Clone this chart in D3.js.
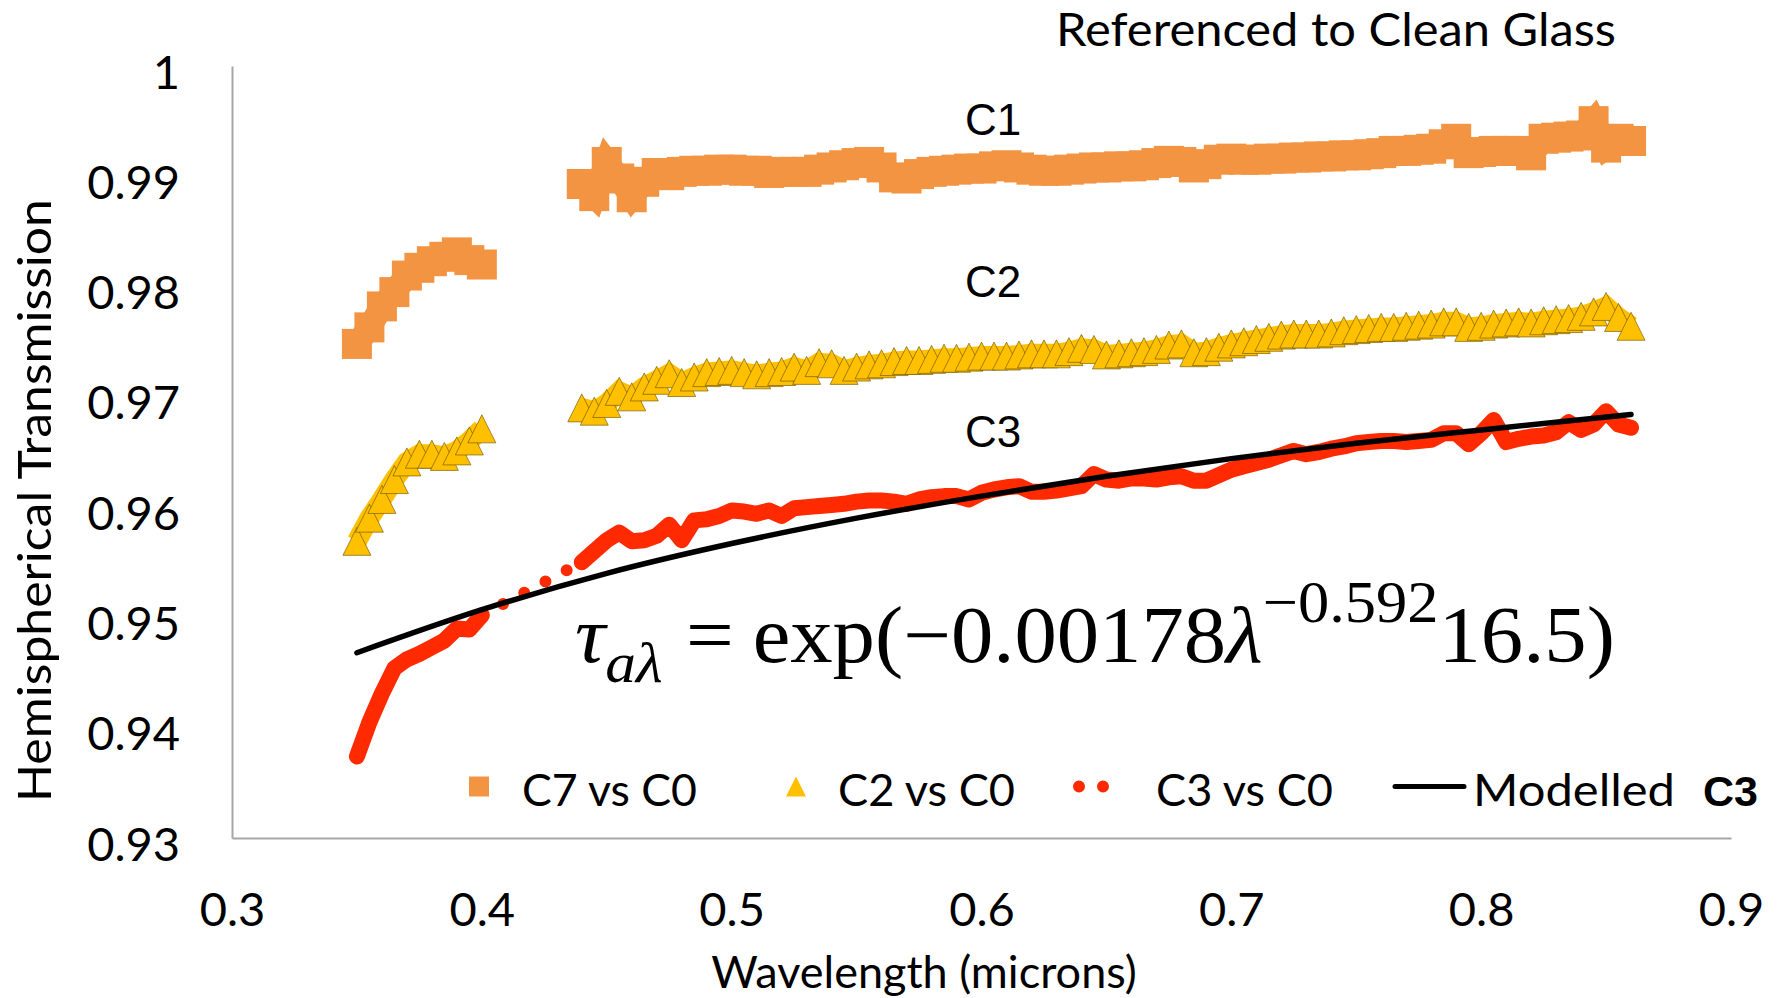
<!DOCTYPE html>
<html>
<head>
<meta charset="utf-8">
<script src="https://cdn.jsdelivr.net/npm/d3@7"></script>
<style>
  body { margin: 0; background: #fff; }
  svg text { font-family: Lato, "Open Sans", sans-serif; fill: #000; }
</style>
</head>
<body>
<div id="chart-div"></div>
<script>
// wavelength grid (microns) of the two measured ranges, shared by all three samples
const wlUv = [0.350, 0.355, 0.360, 0.365, 0.370, 0.375, 0.380, 0.385, 0.390, 0.395, 0.400];
const wlVis = [
  0.440, 0.445, 0.450, 0.455, 0.460, 0.465, 0.470, 0.475, 0.480, 0.485,
  0.490, 0.495, 0.500, 0.505, 0.510, 0.515, 0.520, 0.525, 0.530, 0.535,
  0.540, 0.545, 0.550, 0.555, 0.560, 0.565, 0.570, 0.575, 0.580, 0.585,
  0.590, 0.595, 0.600, 0.605, 0.610, 0.615, 0.620, 0.625, 0.630, 0.635,
  0.640, 0.645, 0.650, 0.655, 0.660, 0.665, 0.670, 0.675, 0.680, 0.685,
  0.690, 0.695, 0.700, 0.705, 0.710, 0.715, 0.720, 0.725, 0.730, 0.735,
  0.740, 0.745, 0.750, 0.755, 0.760, 0.765, 0.770, 0.775, 0.780, 0.785,
  0.790, 0.795, 0.800, 0.805, 0.810, 0.815, 0.820, 0.825, 0.830, 0.835,
  0.840, 0.845, 0.850, 0.855, 0.860];

// C7 vs C0 (orange squares)
const c7Uv = [0.9748, 0.9763, 0.9782, 0.9795, 0.9810, 0.9817, 0.9823, 0.9827, 0.9831, 0.9824, 0.9820];
const c7Vis = [
  0.9893, 0.9882, 0.9913, 0.9898, 0.9881, 0.9895, 0.9903, 0.9901, 0.9904, 0.9905,
  0.9905, 0.9906, 0.9906, 0.9905, 0.9905, 0.9903, 0.9904, 0.9904, 0.9904, 0.9906,
  0.9908, 0.9910, 0.9912, 0.9913, 0.9908, 0.9899, 0.9898, 0.9902, 0.9904, 0.9905,
  0.9906, 0.9907, 0.9907, 0.9909, 0.9910, 0.9908, 0.9906, 0.9905, 0.9905, 0.9906,
  0.9907, 0.9908, 0.9908, 0.9909, 0.9909, 0.9910, 0.9912, 0.9914, 0.9913, 0.9908,
  0.9911, 0.9915, 0.9916, 0.9915, 0.9915, 0.9916, 0.9916, 0.9917, 0.9917, 0.9918,
  0.9918, 0.9919, 0.9919, 0.9920, 0.9921, 0.9923, 0.9923, 0.9924, 0.9925, 0.9929,
  0.9934, 0.9921, 0.9922, 0.9923, 0.9923, 0.9923, 0.9919, 0.9934, 0.9935, 0.9936,
  0.9937, 0.9950, 0.9926, 0.9934, 0.9932];

// C2 vs C0 (yellow triangles)
const c2Uv = [0.9569, 0.9590, 0.9607, 0.9625, 0.9641, 0.9648, 0.9648, 0.9646, 0.9651, 0.9660, 0.9671];
const c2Vis = [
  0.9690, 0.9687, 0.9694, 0.9705, 0.9700, 0.9709, 0.9715, 0.9721, 0.9713, 0.9718,
  0.9722, 0.9723, 0.9724, 0.9722, 0.9720, 0.9722, 0.9723, 0.9727, 0.9724, 0.9731,
  0.9730, 0.9724, 0.9727, 0.9729, 0.9730, 0.9732, 0.9733, 0.9733, 0.9734, 0.9735,
  0.9735, 0.9736, 0.9737, 0.9737, 0.9737, 0.9738, 0.9739, 0.9739, 0.9739, 0.9741,
  0.9744, 0.9743, 0.9738, 0.9739, 0.9740, 0.9741, 0.9743, 0.9747, 0.9748, 0.9740,
  0.9741, 0.9745, 0.9748, 0.9750, 0.9752, 0.9754, 0.9756, 0.9757, 0.9757, 0.9757,
  0.9758, 0.9760, 0.9761, 0.9762, 0.9763, 0.9763, 0.9764, 0.9765, 0.9766, 0.9768,
  0.9768, 0.9763, 0.9764, 0.9766, 0.9767, 0.9768, 0.9767, 0.9769, 0.9770, 0.9771,
  0.9773, 0.9777, 0.9782, 0.9772, 0.9764];

// C3 vs C0 (red round-dot line)
const c3Uv = [0.9374, 0.9405, 0.9431, 0.9454, 0.9462, 0.9467, 0.9473, 0.9479, 0.9490, 0.9489, 0.9502];
const c3Vis = [
  0.9550, 0.9560, 0.9570, 0.9577, 0.9569, 0.9570, 0.9574, 0.9584, 0.9570, 0.9588,
  0.9589, 0.9592, 0.9597, 0.9596, 0.9594, 0.9597, 0.9592, 0.9599, 0.9600, 0.9601,
  0.9602, 0.9603, 0.9605, 0.9606, 0.9606, 0.9605, 0.9603, 0.9607, 0.9609, 0.9610,
  0.9610, 0.9607, 0.9613, 0.9616, 0.9618, 0.9619, 0.9614, 0.9614, 0.9615, 0.9617,
  0.9619, 0.9630, 0.9625, 0.9624, 0.9626, 0.9626, 0.9625, 0.9627, 0.9628, 0.9624,
  0.9624, 0.9629, 0.9634, 0.9637, 0.9640, 0.9643, 0.9647, 0.9651, 0.9648, 0.9650,
  0.9653, 0.9655, 0.9658, 0.9659, 0.9660, 0.9660, 0.9659, 0.9660, 0.9661, 0.9667,
  0.9667, 0.9657, 0.9667, 0.9679, 0.9659, 0.9662, 0.9664, 0.9665, 0.9668, 0.9677,
  0.9670, 0.9675, 0.9687, 0.9675, 0.9672];

// Modelled C3 (black line)
const modelWl = [0.35, 0.40, 0.45, 0.50, 0.55, 0.60, 0.65, 0.70, 0.75, 0.80, 0.86];
const modelTau = [0.9468, 0.9507, 0.9540, 0.9567, 0.9590, 0.9610, 0.9628, 0.9644, 0.9658, 0.9670, 0.9684];

const xTicks = [0.3, 0.4, 0.5, 0.6, 0.7, 0.8, 0.9];
const xTickLabels = ['0.3', '0.4', '0.5', '0.6', '0.7', '0.8', '0.9'];
const yTicks = [0.93, 0.94, 0.95, 0.96, 0.97, 0.98, 0.99, 1];
const yTickLabels = ['0.93', '0.94', '0.95', '0.96', '0.97', '0.98', '0.99', '1'];

const legendLabels = ['C7 vs C0', 'C2 vs C0', 'C3 vs C0', 'Modelled'];

const scatterChart = function() {

    const width = 1783
    const height = 998

    const svg = d3.select('#chart-div').append('svg')
                    .attr('width', width)
                    .attr('height', height)
                    .attr('viewBox', [0, 0, width, height]);

    const orange = '#F39442';
    const yellow = '#FFC000';
    const red = '#FF2A00';
    const axisGrey = '#A6A6A6';

    const xScale = d3.scaleLinear().domain([0.3, 0.9]).range([232, 1731]);
    const yScale = d3.scaleLinear().domain([0.93, 1]).range([838, 66]);

    const pairs = (wl, vals) => wl.map((w, i) => ({ wl: w, t: vals[i] }));
    const c7Runs = [pairs(wlUv, c7Uv), pairs(wlVis, c7Vis)];
    const c2Runs = [pairs(wlUv, c2Uv), pairs(wlVis, c2Vis)];
    const c3Runs = [pairs(wlUv, c3Uv), pairs(wlVis, c3Vis)];
    const model = pairs(modelWl, modelTau);

    const line = d3.line().x(d => xScale(d.wl)).y(d => yScale(d.t));

    // axes
    const xAxis = d3.axisBottom(xScale)
      .tickValues(xTicks)
      .tickFormat((d, i) => xTickLabels[i])
      .tickSize(0);
    const yAxis = d3.axisLeft(yScale)
      .tickValues(yTicks)
      .tickFormat((d, i) => yTickLabels[i])
      .tickSize(0);

    const xAxisG = svg.append('g')
      .attr('transform', 'translate(0,838)')
      .call(xAxis);
    xAxisG.select('.domain').attr('stroke', axisGrey).attr('stroke-width', 2);
    xAxisG.selectAll('text')
      .attr('y', 88).attr('dy', 0)
      .style('font-size', '47px');

    const yAxisG = svg.append('g')
      .attr('transform', 'translate(232,0)')
      .call(yAxis);
    yAxisG.select('.domain').attr('stroke', axisGrey).attr('stroke-width', 2);
    yAxisG.selectAll('text')
      .attr('x', -52).attr('y', 22).attr('dy', 0)
      .style('font-size', '47px');
    svg.selectAll('.tick text').attr('fill', '#000').attr('font-family', null);

    // C7 squares, dense enough in the original to merge into one band
    const sq = 30;
    const c7G = svg.append('g');
    c7Runs.forEach(run => {
        c7G.append('path')
          .attr('d', line(run))
          .attr('fill', 'none')
          .attr('stroke', orange)
          .attr('stroke-width', 24);
        c7G.append('g').selectAll('rect').data(run)
          .enter().append('rect')
            .attr('x', d => xScale(d.wl) - sq / 2)
            .attr('y', d => yScale(d.t) - sq / 2)
            .attr('width', sq)
            .attr('height', sq)
            .style('fill', orange);
    });

    // C2 triangles
    const tri = 14;
    const triPath = `M0,${-tri}L${tri},${tri}L${-tri},${tri}Z`;
    const c2G = svg.append('g');
    c2Runs.forEach(run => {
        c2G.append('path')
          .attr('d', line(run))
          .attr('fill', 'none')
          .attr('stroke', yellow)
          .attr('stroke-width', 20);
        c2G.append('g').selectAll('path').data(run)
          .enter().append('path')
            .attr('d', triPath)
            .attr('transform', d => `translate(${xScale(d.wl)},${yScale(d.t)})`)
            .style('fill', yellow)
            .style('stroke', '#6b5500')
            .style('stroke-width', 0.9)
            .style('stroke-opacity', 0.7);
    });

    // C3 round-dot line
    const c3G = svg.append('g');
    c3Runs.forEach(run => {
        c3G.append('path')
          .attr('d', line(run))
          .attr('fill', 'none')
          .attr('stroke', red)
          .attr('stroke-width', 16)
          .attr('stroke-linecap', 'round')
          .attr('stroke-linejoin', 'round');
    });
    // the gap between the two ranges is only bridged by the dotted line
    c3G.append('path')
      .attr('d', line([c3Runs[0][c3Runs[0].length - 1], c3Runs[1][0]]))
      .attr('fill', 'none')
      .attr('stroke', red)
      .attr('stroke-width', 12)
      .attr('stroke-linecap', 'round')
      .attr('stroke-dasharray', '0 24');

    // modelled line
    svg.append('path')
      .attr('d', d3.line().x(d => xScale(d.wl)).y(d => yScale(d.t)).curve(d3.curveMonotoneX)(model))
      .attr('fill', 'none')
      .attr('stroke', '#000')
      .attr('stroke-width', 5.5)
      .attr('stroke-linecap', 'round');

    // axis titles and chart title
    svg.append('text')
      .attr('x', 1056).attr('y', 46)
      .attr('textLength', 560)
      .attr('lengthAdjust', 'spacingAndGlyphs')
      .style('font-size', '47px')
      .text('Referenced to Clean Glass');

    svg.append('text')
      .attr('x', 924).attr('y', 988)
      .attr('text-anchor', 'middle')
      .style('font-size', '45px')
      .text('Wavelength (microns)');

    svg.append('text')
      .attr('transform', 'translate(51,802) rotate(-90)')
      .attr('textLength', 603)
      .attr('lengthAdjust', 'spacingAndGlyphs')
      .style('font-size', '47px')
      .text('Hemispherical Transmission');

    // curve labels
    [['C1', 135], ['C2', 297], ['C3', 447]].forEach(([txt, y]) => {
        svg.append('text')
          .attr('x', 965).attr('y', y)
          .style('font-family', '"Liberation Sans", Arial, sans-serif')
          .style('font-size', '44px')
          .text(txt);
    });

    // equation
    const eq = svg.append('text')
      .style('font-family', '"Liberation Serif", "Times New Roman", serif')
      .style('font-size', '80px');
    eq.append('tspan').style('font-style', 'italic').text('τ');
    eq.append('tspan').style('font-style', 'italic').style('font-size', '58px').attr('dy', 20).text('aλ');
    eq.append('tspan').attr('dy', -20).attr('dx', 22).text('=');
    eq.append('tspan').attr('dx', 18).text('exp(−0.00178');
    eq.append('tspan').style('font-style', 'italic').text('λ');
    eq.append('tspan').style('font-size', '59px').attr('dy', -40).text('−0.592');
    eq.append('tspan').attr('dy', 40).text('16.5)');
    const bw = eq.node().getBBox().width;
    eq.attr('transform', `translate(575,662) scale(${1040 / bw},1)`);

    // legend
    const legendY = 786.5;
    const legend = svg.append('g').attr('class', 'legend');
    legend.append('rect')
      .attr('x', 469).attr('y', legendY - 10)
      .attr('width', 20).attr('height', 20)
      .style('fill', orange);
    legend.append('path')
      .attr('d', 'M0,-10L10,10L-10,10Z')
      .attr('transform', `translate(796,${legendY})`)
      .style('fill', yellow);
    legend.append('line')
      .attr('x1', 1079).attr('x2', 1127)
      .attr('y1', legendY).attr('y2', legendY)
      .attr('stroke', red).attr('stroke-width', 12)
      .attr('stroke-linecap', 'round')
      .attr('stroke-dasharray', '0 24');
    legend.append('line')
      .attr('x1', 1395).attr('x2', 1464)
      .attr('y1', legendY).attr('y2', legendY)
      .attr('stroke', '#000').attr('stroke-width', 5)
      .attr('stroke-linecap', 'round');

    const legendX = [522, 838, 1156, 1473];
    const legendW = [175, 177, 177, 202];
    legend.selectAll('text.lbl').data(legendLabels)
      .enter().append('text')
        .attr('class', 'lbl')
        .attr('x', (d, i) => legendX[i])
        .attr('y', 806)
        .attr('textLength', (d, i) => legendW[i])
        .attr('lengthAdjust', 'spacingAndGlyphs')
        .style('font-size', '45px')
        .text(d => d);
    legend.append('text')
      .attr('x', 1703).attr('y', 806)
      .style('font-family', '"Liberation Sans", Arial, sans-serif')
      .style('font-weight', 'bold')
      .style('font-size', '43px')
      .text('C3');
}

scatterChart();
</script>
</body>
</html>
